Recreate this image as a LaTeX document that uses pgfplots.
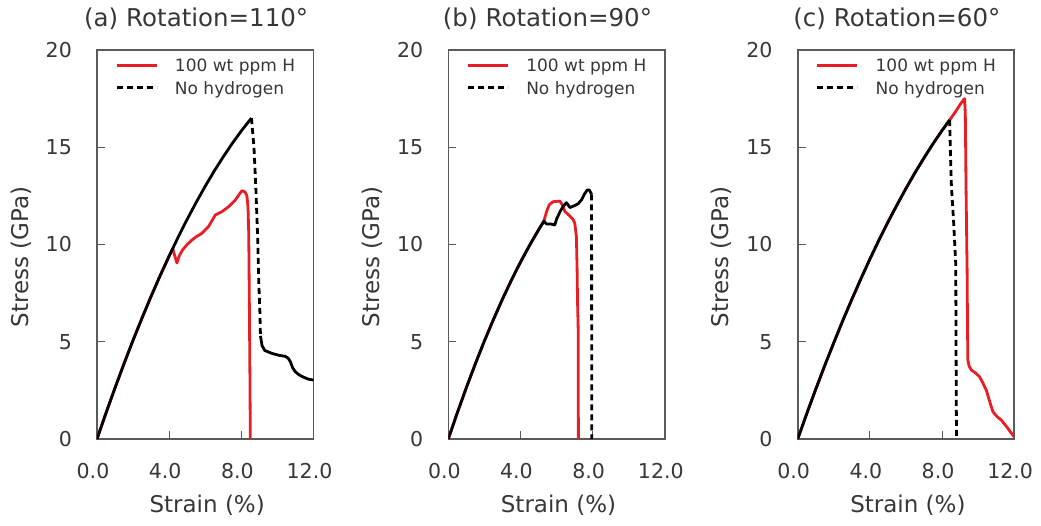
\documentclass[border=0pt]{standalone}
\usepackage{fontspec}
\setmainfont{DejaVu Sans}
\usepackage{pgfplots}
\pgfplotsset{compat=1.18}

\definecolor{hred}{RGB}{232,30,36}
\definecolor{axgray}{RGB}{90,90,90}
\definecolor{txtgray}{RGB}{55,55,55}

\tikzset{
  hline/.style={hred, line width=2.8pt, line join=round},
  nline/.style={black, line width=2.8pt, line join=round},
  nlinedash/.style={black, line width=2.8pt, dash pattern=on 6pt off 4pt},
}

\pgfplotsset{
  panel/.style={
    scale only axis, width=216.5pt, height=389pt,
    anchor=south west,
    xmin=0, xmax=12, ymin=0, ymax=20,
    xtick={0,4,8,12}, xticklabels={0.0,4.0,8.0,12.0},
    ytick={0,5,10,15,20}, yticklabels={0,5,10,15,20},
    /pgf/number format/assume math mode=true,
    tick pos=left, tick align=inside,
    major tick length=8pt,
    every tick/.style={axgray, line width=1pt},
    axis line style={axgray, line width=1.6pt},
    tick label style={font=\fontsize{20.5}{24}\selectfont, text=txtgray},
    xticklabel style={anchor=north, inner sep=0pt, yshift=-24pt, xshift=-4pt},
    yticklabel style={anchor=east, inner sep=0pt, xshift=-25pt},
    xlabel={Strain (\%)}, ylabel={Stress (GPa)},
    label style={font=\fontsize{23}{27}\selectfont, text=txtgray, inner sep=0pt},
    xlabel style={at={(axis description cs:0.509,-0.1697)}, anchor=center},
    ylabel style={at={(axis description cs:-0.351,0.468)}, anchor=center},
    title style={at={(axis description cs:0.458,1.0437)}, anchor=base,
      font=\fontsize{24.5}{28}\selectfont, text=txtgray, inner sep=0pt},
    legend style={at={(axis description cs:0.083,0.977)}, anchor=north west,
      draw=none, fill=none, inner sep=0pt,
      font=\fontsize{17}{20}\selectfont, text=txtgray,
      row sep=8pt, column sep=17pt, nodes={inner sep=0pt}},
    legend cell align=left,
    legend image code/.code={\draw[##1] (0pt,1pt) -- (40pt,1pt);},
  }
}

\begin{document}
\begin{tikzpicture}
\useasboundingbox (0,0) rectangle (1041pt,525pt);

% ---------- (a) rotation 110 deg ----------
\begin{axis}[panel, at={(97pt,86pt)}, title={(a)\hspace{8pt}Rotation=110°}]
\addlegendimage{hline}\addlegendentry{100 wt ppm H}
\addlegendimage{nlinedash}\addlegendentry{No hydrogen}
\addplot[hline, forget plot] table {
0 0
0.5 1.34
1.0 2.63
1.5 3.88
2.0 5.08
2.5 6.23
3.0 7.34
3.5 8.40
4.0 9.41
4.2 9.78
4.3 9.45
4.43 9.05
4.55 9.4
4.74 9.72
5.0 10.0
5.26 10.23
5.5 10.4
5.82 10.58
6.18 10.92
6.56 11.52
6.93 11.69
7.29 11.94
7.67 12.29
7.9 12.6
8.04 12.77
8.2 12.7
8.31 12.5
8.37 11.9
8.41 10.6
8.44 7.5
8.47 4.0
8.5 0
};
\addplot[nline, forget plot] table {
0 0
0.5 1.34
1.0 2.63
1.5 3.88
2.0 5.08
2.5 6.23
3.0 7.34
3.5 8.40
4.0 9.41
4.5 10.38
5.0 11.30
5.5 12.17
6.0 13.00
6.5 13.78
7.0 14.51
7.5 15.20
8.0 15.84
8.56 16.50
};
\addplot[nlinedash, forget plot] table {
8.56 16.5
8.7 15.0
8.8 13.0
8.9 10.5
8.97 8.0
9.03 6.5
9.06 5.3
};
\addplot[nline, forget plot] table {
9.06 5.3
9.15 4.8
9.3 4.55
9.7 4.4
10.1 4.3
10.44 4.25
10.6 4.15
10.72 3.97
10.85 3.65
11.0 3.45
11.2 3.3
11.4 3.2
11.7 3.08
12.0 3.03
};
\end{axis}

% ---------- (b) rotation 90 deg ----------
\begin{axis}[panel, at={(448.3pt,86pt)}, title={(b)\hspace{8pt}Rotation=90°}]
\addlegendimage{hline}\addlegendentry{100 wt ppm H}
\addlegendimage{nlinedash}\addlegendentry{No hydrogen}
\addplot[hline, forget plot] table {
0 0
0.5 1.35
1.0 2.64
1.5 3.87
2.0 5.04
2.5 6.14
3.0 7.19
3.5 8.17
4.0 9.09
4.5 9.95
5.0 10.75
5.3 11.2
5.45 11.7
5.6 12.05
5.81 12.2
6.18 12.23
6.37 11.97
6.46 11.7
6.74 11.46
6.9 11.3
7.01 11.1
7.1 10.4
7.14 8.7
7.16 7.2
7.2 5.6
7.21 0
};
\addplot[nline, forget plot] table {
0 0
0.5 1.35
1.0 2.64
1.5 3.87
2.0 5.04
2.5 6.14
3.0 7.19
3.5 8.17
4.0 9.09
4.5 9.95
5.0 10.75
5.3 11.2
5.45 11.05
5.7 11.05
5.9 11.0
6.0 11.3
6.2 11.7
6.37 11.97
6.55 12.15
6.74 11.9
7.0 12.0
7.2 12.1
7.39 12.3
7.55 12.6
7.7 12.8
7.82 12.8
7.94 12.58
};
\addplot[nlinedash, forget plot] table {
7.94 12.58
7.95 0
};
\end{axis}

% ---------- (c) rotation 60 deg ----------
\begin{axis}[panel, at={(797.7pt,86pt)}, title={(c)\hspace{8pt}Rotation=60°}]
\addlegendimage{hline}\addlegendentry{100 wt ppm H}
\addlegendimage{nlinedash}\addlegendentry{No hydrogen}
\addplot[hline, forget plot] table {
0 0
0.5 1.30
1.0 2.56
1.5 3.78
2.0 4.95
2.5 6.09
3.0 7.18
3.5 8.23
4.0 9.25
4.5 10.22
5.0 11.15
5.5 12.03
6.0 12.88
6.5 13.69
7.0 14.45
7.5 15.18
8.0 15.86
8.42 16.4
8.8 16.9
9.0 17.2
9.25 17.5
9.29 16.7
9.33 13.0
9.37 10.0
9.39 8.7
9.41 6.0
9.43 4.06
9.5 3.75
9.62 3.55
9.85 3.4
10.08 3.2
10.25 2.9
10.45 2.52
10.65 1.9
10.82 1.4
11.05 1.15
11.28 0.98
11.45 0.78
11.65 0.55
11.8 0.35
11.93 0.2
12.0 0.1
};
\addplot[nline, forget plot] table {
0 0
0.5 1.30
1.0 2.56
1.5 3.78
2.0 4.95
2.5 6.09
3.0 7.18
3.5 8.23
4.0 9.25
4.5 10.22
5.0 11.15
5.5 12.03
6.0 12.88
6.5 13.69
7.0 14.45
7.5 15.18
8.0 15.86
8.42 16.4
};
\addplot[nlinedash, forget plot] table {
8.42 16.4
8.47 14.5
8.52 13.0
8.64 11.2
8.76 9.0
8.78 4.0
8.8 0
};
\end{axis}
\end{tikzpicture}
\end{document}
